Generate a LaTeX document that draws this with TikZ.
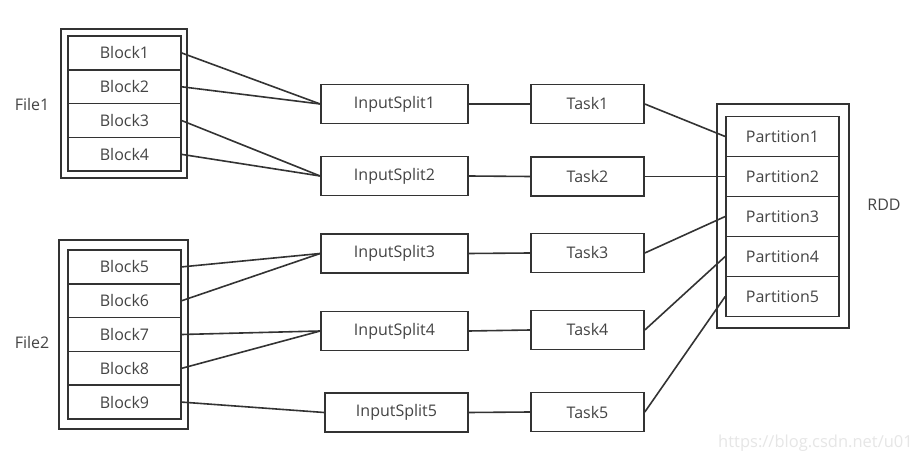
\documentclass[tikz,border=0pt]{standalone}
\usepackage{fontspec}
\setmainfont{Open Sans}
\definecolor{ink}{HTML}{333333}
\definecolor{txt}{HTML}{444444}
\definecolor{wm}{HTML}{E6E6E6}
\begin{document}
\begin{tikzpicture}[x=1bp,y=-1bp,
  box/.style={draw=ink,line width=1.6bp,rectangle,inner sep=0pt,text=txt,font=\fontsize{16bp}{18bp}\selectfont},
  blk/.style={box,minimum width=113bp,minimum height=33.8bp},
  split/.style={box,minimum width=147bp,minimum height=39bp},
  task/.style={box,minimum width=113bp,minimum height=39bp},
  part/.style={box,minimum width=113bp,minimum height=40bp},
  outer/.style={draw=ink,line width=1.6bp},
  lbl/.style={text=txt,font=\fontsize{16bp}{18bp}\selectfont,inner sep=0pt},
  conn/.style={draw=ink,line width=1.6bp}]
\clip (0,0) rectangle (915,453);
\fill[white] (0,0) rectangle (915,453);
% File1
\draw[outer] (61,29) rectangle (187,178);
\node[blk] (b1) at (124.5,53) {Block1};
\node[blk] (b2) at (124.5,86.8) {Block2};
\node[blk] (b3) at (124.5,120.6) {Block3};
\node[blk] (b4) at (124.5,154.4) {Block4};
\node[lbl] (f1) at (32,105) {File1};
% File2
\draw[outer] (59,240) rectangle (188,429);
\node[blk] (b5) at (124.5,266.9) {Block5};
\node[blk] (b6) at (124.5,300.7) {Block6};
\node[blk] (b7) at (124.5,334.5) {Block7};
\node[blk] (b8) at (124.5,368.3) {Block8};
\node[blk] (b9) at (124.5,402.1) {Block9};
\node[lbl] (f2) at (32,343) {File2};
% InputSplits
\node[split] (s1) at (394.5,104) {InputSplit1};
\node[split] (s2) at (394.5,176) {InputSplit2};
\node[split] (s3) at (394.5,253.5) {InputSplit3};
\node[split] (s4) at (394.5,331) {InputSplit4};
\node[split,minimum width=143bp] (s5) at (396.5,412.5) {InputSplit5};
% Tasks
\node[task] (t1) at (587.5,104) {Task1};
\node[task] (t2) at (587.5,176.5) {Task2};
\node[task] (t3) at (587.5,253) {Task3};
\node[task] (t4) at (587.5,330) {Task4};
\node[task] (t5) at (587.5,412) {Task5};
% RDD
\draw[outer] (717,104) rectangle (849,328);
\node[part] (p1) at (782.5,136.5) {Partition1};
\node[part] (p2) at (782.5,176.5) {Partition2};
\node[part] (p3) at (782.5,216.5) {Partition3};
\node[part] (p4) at (782.5,256.5) {Partition4};
\node[part] (p5) at (782.5,296.5) {Partition5};
\node[lbl] (rdd) at (884,205) {RDD};
% connectors
\draw[conn] (b1.east) -- (s1.west);
\draw[conn] (b2.east) -- (s1.west);
\draw[conn] (b3.east) -- (s2.west);
\draw[conn] (b4.east) -- (s2.west);
\draw[conn] (b5.east) -- (s3.west);
\draw[conn] (b6.east) -- (s3.west);
\draw[conn] (b7.east) -- (s4.west);
\draw[conn] (b8.east) -- (s4.west);
\draw[conn] (b9.east) -- (s5.west);
\draw[conn] (s1.east) -- (t1.west);
\draw[conn] (s2.east) -- (t2.west);
\draw[conn] (s3.east) -- (t3.west);
\draw[conn] (s4.east) -- (t4.west);
\draw[conn] (s5.east) -- (t5.west);
\draw[conn] (t1.east) -- (p1.west);
\draw[conn] (t2.east) -- (p2.west);
\draw[conn] (t3.east) -- (p3.west);
\draw[conn] (t4.east) -- (p4.west);
\draw[conn] (t5.east) -- (p5.west);
% watermark
\node[anchor=east,text=wm,inner sep=0pt,font=\fontsize{16.5bp}{18bp}\selectfont] (wmk) at (913,443) {https://blog.csdn.net/u01};
\end{tikzpicture}
\end{document}
